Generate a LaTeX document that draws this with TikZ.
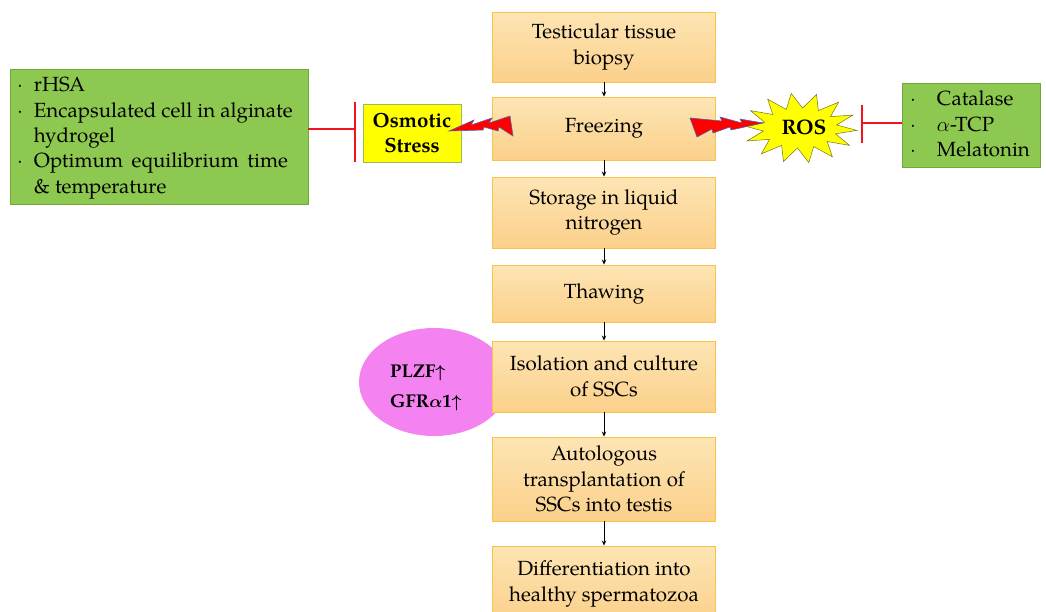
\documentclass[tikz,border=0pt]{standalone}
\usepackage{amsmath}
\usepackage{fontspec}
\setmainfont{TeX Gyre Pagella}
\usetikzlibrary{arrows.meta,shapes.geometric}
\definecolor{boxtop}{RGB}{253,229,180}
\definecolor{boxbot}{RGB}{251,208,138}
\definecolor{boxline}{RGB}{246,196,70}
\definecolor{grn}{RGB}{141,201,80}
\definecolor{grnline}{RGB}{112,168,60}
\definecolor{ylw}{RGB}{255,255,0}
\definecolor{ylwline}{RGB}{155,187,89}
\definecolor{pnk}{RGB}{244,130,240}
\definecolor{boltline}{RGB}{80,100,170}
\definecolor{inhred}{RGB}{240,20,30}
\begin{document}
\begin{tikzpicture}[x=1pt,y=-1pt,
  flow/.style={draw=boxline, line width=0.9pt, top color=boxtop, bottom color=boxbot,
    minimum width=223pt, align=center, inner sep=0pt, font=\fontsize{20.5}{25.5}\selectfont},
  greenbox/.style={draw=grnline, line width=0.7pt, fill=grn, inner sep=0pt},
  arr/.style={-{Stealth[length=5pt,width=4.5pt]}, line width=0.8pt, black},
  inhib/.style={color=inhred, line width=1.5pt},
  bolt/.style={fill=red, draw=boltline, line width=0.6pt},
  txt/.style={font=\fontsize{20.5}{25.3}\selectfont, inner sep=0pt}]
\useasboundingbox (0,0) rectangle (1046,611);
\fill[white] (0,0) rectangle (1046,611);

% pink ellipse (behind box 5)
\node[ellipse, fill=pnk, minimum width=150pt, minimum height=108pt, inner sep=0pt] (pink) at (434,382) {};

% main flow
\node[flow, minimum height=70pt] (b1) at (604,47) {Testicular tissue\\biopsy};
\node[flow, minimum height=63pt] (b2) at (604,128.5) {Freezing};
\node[flow, minimum height=71pt] (b3) at (604,212.5) {Storage in liquid\\nitrogen};
\node[flow, minimum height=57pt] (b4) at (604,293.5) {Thawing};
\node[flow, minimum height=71pt] (b5) at (604,376.5) {Isolation and culture\\of SSCs};
\node[flow, minimum height=84pt] (b6) at (604,479) {Autologous\\transplantation of\\SSCs into testis};
\node[flow, minimum height=76pt] (b7) at (604,584) {Differentiation into\\healthy spermatozoa};

\draw[arr] (b1.south) -- (b2.north);
\draw[arr] (b2.south) -- (b3.north);
\draw[arr] (b3.south) -- (b4.north);
\draw[arr] (b4.south) -- (b5.north);
\draw[arr] (b5.south) -- (b6.north);
\draw[arr] (b6.south) -- (b7.north);

% ellipse text
\node[anchor=west, align=left, inner sep=0pt, font=\fontsize{18.5}{30}\selectfont\bfseries] (pinktxt) at (390,388)
  {PLZF$\boldsymbol{\uparrow}$\\GFR$\boldsymbol{\alpha}$1$\boldsymbol{\uparrow}$};

% left green box
\node[greenbox, minimum width=298pt, minimum height=135pt] (gl) at (159,136.5) {};
\node[txt, anchor=north west, align=left] (gltxt) at (17,74) {%
  \begin{tabular}{@{}l@{\hspace{11pt}}l@{}}
  $\cdot$ & rHSA\\
  $\cdot$ & Encapsulated cell in alginate\\
          & hydrogel\\
  $\cdot$ & \makebox[254pt][s]{Optimum equilibrium time}\\
          & \& temperature
  \end{tabular}};

% right green box
\node[greenbox, minimum width=138pt, minimum height=84pt] (gr) at (971,125) {};
\node[txt, anchor=north west, align=left] (grtxt) at (910,88) {%
  \begin{tabular}{@{}l@{\hspace{21pt}}l@{}}
  $\cdot$ & Catalase\\
  $\cdot$ & $\alpha$-TCP\\
  $\cdot$ & Melatonin
  \end{tabular}};

% osmotic stress
\node[draw=ylwline, line width=0.8pt, fill=ylw, minimum width=98pt, minimum height=58pt,
  align=center, inner sep=0pt, font=\fontsize{20.5}{25}\selectfont\bfseries] (os) at (412,133) {Osmotic\\Stress};

% ROS star
\draw[fill=ylw, draw=olive!80!black, line width=0.5pt]
  plot[samples at={0,...,27}, variable=\k]
  ({800+ifthenelse(isodd(\k),37,57)*cos(\k*360/28+4)},
   {128+ifthenelse(isodd(\k),20,35)*sin(\k*360/28+4)}) -- cycle;
\node[txt, font=\fontsize{21}{25}\selectfont\bfseries] (ros) at (804,127) {ROS};

% lightning bolts
\draw[bolt] (449,131) -- (474,120) -- (471,125) -- (492,118) -- (489,123) -- (510,116)
  -- (513,136) -- (499,127) -- (498,131) -- (484,127) -- (483,130) -- cycle;
\draw[bolt] (763,123) -- (740,119) -- (742,123) -- (720,117) -- (722,121) -- (690,118)
  -- (697,137) -- (712,129) -- (713,133) -- (730,127) -- (731,130) -- cycle;

% inhibition lines
\coordinate (tl) at (355,129);
\coordinate (tr) at (862,123);
\draw[inhib] (gl.east |- tl) -- (tl);
\draw[inhib] (355,102) -- (355,162);
\draw[inhib] (gr.west |- tr) -- (tr);
\draw[inhib] (862,105) -- (862,143);
\end{tikzpicture}
\end{document}
